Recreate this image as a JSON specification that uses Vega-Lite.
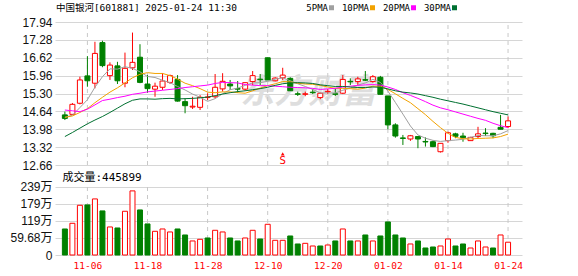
{
  "$schema": "https://vega.github.io/schema/vega-lite/v6.json",
  "width": 467,
  "height": 233,
  "autosize": {"type": "none"},
  "padding": {"left": 55, "top": 22, "right": 56, "bottom": 21},
  "background": "white",
  "config": {"view": {"stroke": null}, "axis": {"labelOverlap": false}},
  "datasets": {
    "k": [
      {"date":"11-01","i":0,"open":14.51,"high":14.63,"low":14.32,"close":14.38,"vol":907000,"vdir":"down","5PMA":14.42,"10PMA":14.42,"20PMA":14.69,"30PMA":13.71},
      {"date":"11-04","i":1,"open":14.53,"high":14.95,"low":14.50,"close":14.90,"vol":1105000,"vdir":"up","5PMA":14.50,"10PMA":14.47,"20PMA":14.66,"30PMA":13.86},
      {"date":"11-05","i":2,"open":14.94,"high":15.92,"low":14.90,"close":15.80,"vol":1733000,"vdir":"up","5PMA":14.78,"10PMA":14.60,"20PMA":14.63,"30PMA":14.02},
      {"date":"11-06","i":3,"open":15.95,"high":16.68,"low":15.55,"close":15.77,"vol":1745000,"vdir":"down","5PMA":15.07,"10PMA":14.74,"20PMA":14.72,"30PMA":14.18},
      {"date":"11-07","i":4,"open":15.68,"high":17.21,"low":15.49,"close":16.78,"vol":1954000,"vdir":"up","5PMA":15.53,"10PMA":14.96,"20PMA":14.88,"30PMA":14.32},
      {"date":"11-08","i":5,"open":17.18,"high":17.25,"low":16.27,"close":16.33,"vol":1536000,"vdir":"down","5PMA":15.92,"10PMA":15.16,"20PMA":15.04,"30PMA":14.45},
      {"date":"11-11","i":6,"open":15.96,"high":16.45,"low":15.80,"close":16.35,"vol":977000,"vdir":"up","5PMA":16.21,"10PMA":15.35,"20PMA":15.09,"30PMA":14.60},
      {"date":"11-12","i":7,"open":16.32,"high":16.47,"low":15.65,"close":15.77,"vol":942000,"vdir":"down","5PMA":16.20,"10PMA":15.51,"20PMA":15.15,"30PMA":14.76},
      {"date":"11-13","i":8,"open":15.68,"high":16.81,"low":15.53,"close":16.23,"vol":1524000,"vdir":"up","5PMA":16.29,"10PMA":15.69,"20PMA":15.20,"30PMA":14.92},
      {"date":"11-14","i":9,"open":16.25,"high":17.55,"low":16.17,"close":16.45,"vol":2234000,"vdir":"up","5PMA":16.23,"10PMA":15.88,"20PMA":15.27,"30PMA":15.05},
      {"date":"11-15","i":10,"open":16.64,"high":17.12,"low":15.68,"close":15.71,"vol":1570000,"vdir":"down","5PMA":16.10,"10PMA":16.01,"20PMA":15.31,"30PMA":15.10},
      {"date":"11-18","i":11,"open":15.65,"high":15.98,"low":15.33,"close":15.48,"vol":1082000,"vdir":"down","5PMA":15.93,"10PMA":16.07,"20PMA":15.36,"30PMA":15.10},
      {"date":"11-19","i":12,"open":15.46,"high":15.70,"low":15.18,"close":15.57,"vol":826000,"vdir":"up","5PMA":15.89,"10PMA":16.04,"20PMA":15.39,"30PMA":15.09},
      {"date":"11-20","i":13,"open":15.53,"high":16.05,"low":15.43,"close":15.76,"vol":907000,"vdir":"up","5PMA":15.79,"10PMA":16.04,"20PMA":15.42,"30PMA":15.11},
      {"date":"11-21","i":14,"open":15.71,"high":16.00,"low":15.65,"close":15.96,"vol":803000,"vdir":"up","5PMA":15.70,"10PMA":15.96,"20PMA":15.45,"30PMA":15.12},
      {"date":"11-22","i":15,"open":15.82,"high":15.98,"low":15.00,"close":15.02,"vol":907000,"vdir":"down","5PMA":15.56,"10PMA":15.83,"20PMA":15.48,"30PMA":15.10},
      {"date":"11-25","i":16,"open":15.00,"high":15.12,"low":14.57,"close":14.85,"vol":698000,"vdir":"down","5PMA":15.43,"10PMA":15.68,"20PMA":15.52,"30PMA":15.11},
      {"date":"11-26","i":17,"open":14.80,"high":15.18,"low":14.73,"close":14.83,"vol":489000,"vdir":"up","5PMA":15.28,"10PMA":15.59,"20PMA":15.55,"30PMA":15.12},
      {"date":"11-27","i":18,"open":14.79,"high":15.24,"low":14.69,"close":15.16,"vol":547000,"vdir":"up","5PMA":15.16,"10PMA":15.48,"20PMA":15.58,"30PMA":15.14},
      {"date":"11-28","i":19,"open":15.15,"high":15.31,"low":15.06,"close":15.17,"vol":593000,"vdir":"down","5PMA":15.01,"10PMA":15.35,"20PMA":15.61,"30PMA":15.17},
      {"date":"11-29","i":20,"open":15.18,"high":16.02,"low":15.12,"close":15.53,"vol":861000,"vdir":"up","5PMA":15.11,"10PMA":15.33,"20PMA":15.67,"30PMA":15.22},
      {"date":"12-02","i":21,"open":15.47,"high":16.05,"low":15.37,"close":15.75,"vol":803000,"vdir":"up","5PMA":15.29,"10PMA":15.36,"20PMA":15.71,"30PMA":15.28},
      {"date":"12-03","i":22,"open":15.65,"high":15.80,"low":15.43,"close":15.58,"vol":593000,"vdir":"down","5PMA":15.44,"10PMA":15.36,"20PMA":15.70,"30PMA":15.33},
      {"date":"12-04","i":23,"open":15.48,"high":15.76,"low":15.33,"close":15.46,"vol":489000,"vdir":"down","5PMA":15.50,"10PMA":15.33,"20PMA":15.69,"30PMA":15.37},
      {"date":"12-05","i":24,"open":15.46,"high":15.70,"low":15.40,"close":15.70,"vol":593000,"vdir":"up","5PMA":15.60,"10PMA":15.31,"20PMA":15.63,"30PMA":15.40},
      {"date":"12-06","i":25,"open":15.74,"high":16.13,"low":15.61,"close":15.96,"vol":861000,"vdir":"up","5PMA":15.69,"10PMA":15.40,"20PMA":15.61,"30PMA":15.44},
      {"date":"12-09","i":26,"open":15.83,"high":16.02,"low":15.61,"close":15.81,"vol":558000,"vdir":"down","5PMA":15.70,"10PMA":15.50,"20PMA":15.59,"30PMA":15.48},
      {"date":"12-10","i":27,"open":16.62,"high":16.62,"low":15.80,"close":15.80,"vol":1070000,"vdir":"up","5PMA":15.75,"10PMA":15.59,"20PMA":15.59,"30PMA":15.53},
      {"date":"12-11","i":28,"open":15.77,"high":15.90,"low":15.75,"close":15.87,"vol":512000,"vdir":"up","5PMA":15.83,"10PMA":15.66,"20PMA":15.57,"30PMA":15.60},
      {"date":"12-12","i":29,"open":15.88,"high":16.25,"low":15.80,"close":15.98,"vol":512000,"vdir":"up","5PMA":15.88,"10PMA":15.74,"20PMA":15.55,"30PMA":15.66},
      {"date":"12-13","i":30,"open":15.86,"high":15.90,"low":15.40,"close":15.40,"vol":663000,"vdir":"down","5PMA":15.77,"10PMA":15.73,"20PMA":15.53,"30PMA":15.69},
      {"date":"12-16","i":31,"open":15.29,"high":15.37,"low":15.21,"close":15.27,"vol":384000,"vdir":"down","5PMA":15.66,"10PMA":15.68,"20PMA":15.52,"30PMA":15.70},
      {"date":"12-17","i":32,"open":15.27,"high":15.37,"low":15.20,"close":15.29,"vol":407000,"vdir":"up","5PMA":15.56,"10PMA":15.65,"20PMA":15.51,"30PMA":15.69},
      {"date":"12-18","i":33,"open":15.35,"high":15.47,"low":15.28,"close":15.33,"vol":314000,"vdir":"up","5PMA":15.45,"10PMA":15.64,"20PMA":15.49,"30PMA":15.67},
      {"date":"12-19","i":34,"open":15.15,"high":15.33,"low":15.09,"close":15.31,"vol":314000,"vdir":"down","5PMA":15.32,"10PMA":15.60,"20PMA":15.45,"30PMA":15.62},
      {"date":"12-20","i":35,"open":15.36,"high":15.47,"low":15.28,"close":15.38,"vol":349000,"vdir":"up","5PMA":15.32,"10PMA":15.54,"20PMA":15.47,"30PMA":15.59},
      {"date":"12-23","i":36,"open":15.29,"high":15.49,"low":15.21,"close":15.27,"vol":489000,"vdir":"down","5PMA":15.32,"10PMA":15.49,"20PMA":15.49,"30PMA":15.56},
      {"date":"12-24","i":37,"open":15.31,"high":15.98,"low":15.28,"close":15.82,"vol":907000,"vdir":"up","5PMA":15.42,"10PMA":15.49,"20PMA":15.54,"30PMA":15.56},
      {"date":"12-25","i":38,"open":15.75,"high":15.86,"low":15.61,"close":15.73,"vol":489000,"vdir":"down","5PMA":15.50,"10PMA":15.48,"20PMA":15.57,"30PMA":15.54},
      {"date":"12-26","i":39,"open":15.74,"high":15.92,"low":15.61,"close":15.84,"vol":489000,"vdir":"up","5PMA":15.61,"10PMA":15.46,"20PMA":15.60,"30PMA":15.52},
      {"date":"12-27","i":40,"open":15.81,"high":16.13,"low":15.76,"close":15.79,"vol":698000,"vdir":"down","5PMA":15.69,"10PMA":15.50,"20PMA":15.62,"30PMA":15.52},
      {"date":"12-30","i":41,"open":15.74,"high":15.98,"low":15.70,"close":15.92,"vol":489000,"vdir":"up","5PMA":15.82,"10PMA":15.57,"20PMA":15.63,"30PMA":15.54},
      {"date":"12-31","i":42,"open":15.90,"high":15.95,"low":15.27,"close":15.27,"vol":663000,"vdir":"down","5PMA":15.71,"10PMA":15.57,"20PMA":15.61,"30PMA":15.53},
      {"date":"01-02","i":43,"open":15.21,"high":15.21,"low":13.98,"close":14.14,"vol":1152000,"vdir":"down","5PMA":15.39,"10PMA":15.45,"20PMA":15.54,"30PMA":15.47},
      {"date":"01-03","i":44,"open":14.14,"high":14.20,"low":13.67,"close":13.73,"vol":698000,"vdir":"down","5PMA":14.97,"10PMA":15.29,"20PMA":15.45,"30PMA":15.40},
      {"date":"01-06","i":45,"open":13.66,"high":13.77,"low":13.40,"close":13.64,"vol":593000,"vdir":"down","5PMA":14.54,"10PMA":15.12,"20PMA":15.33,"30PMA":15.35},
      {"date":"01-07","i":46,"open":13.62,"high":13.77,"low":13.55,"close":13.74,"vol":384000,"vdir":"up","5PMA":14.10,"10PMA":14.96,"20PMA":15.23,"30PMA":15.32},
      {"date":"01-08","i":47,"open":13.71,"high":13.73,"low":13.28,"close":13.62,"vol":489000,"vdir":"down","5PMA":13.77,"10PMA":14.74,"20PMA":15.12,"30PMA":15.28},
      {"date":"01-09","i":48,"open":13.53,"high":13.68,"low":13.34,"close":13.51,"vol":244000,"vdir":"down","5PMA":13.65,"10PMA":14.52,"20PMA":15.00,"30PMA":15.22},
      {"date":"01-10","i":49,"open":13.52,"high":13.56,"low":13.32,"close":13.34,"vol":279000,"vdir":"down","5PMA":13.57,"10PMA":14.27,"20PMA":14.87,"30PMA":15.16},
      {"date":"01-13","i":50,"open":13.15,"high":13.46,"low":13.12,"close":13.46,"vol":314000,"vdir":"up","5PMA":13.53,"10PMA":14.04,"20PMA":14.77,"30PMA":15.09},
      {"date":"01-14","i":51,"open":13.56,"high":13.89,"low":13.48,"close":13.85,"vol":558000,"vdir":"up","5PMA":13.56,"10PMA":13.83,"20PMA":14.70,"30PMA":15.03},
      {"date":"01-15","i":52,"open":13.81,"high":13.85,"low":13.65,"close":13.72,"vol":314000,"vdir":"down","5PMA":13.58,"10PMA":13.68,"20PMA":14.62,"30PMA":14.97},
      {"date":"01-16","i":53,"open":13.73,"high":13.85,"low":13.52,"close":13.67,"vol":384000,"vdir":"down","5PMA":13.61,"10PMA":13.63,"20PMA":14.54,"30PMA":14.91},
      {"date":"01-17","i":54,"open":13.56,"high":13.70,"low":13.56,"close":13.68,"vol":244000,"vdir":"up","5PMA":13.68,"10PMA":13.62,"20PMA":14.46,"30PMA":14.84},
      {"date":"01-20","i":55,"open":13.71,"high":14.07,"low":13.65,"close":13.81,"vol":489000,"vdir":"up","5PMA":13.75,"10PMA":13.64,"20PMA":14.38,"30PMA":14.77},
      {"date":"01-21","i":56,"open":13.84,"high":14.02,"low":13.73,"close":13.82,"vol":279000,"vdir":"up","5PMA":13.74,"10PMA":13.65,"20PMA":14.31,"30PMA":14.70},
      {"date":"01-22","i":57,"open":13.83,"high":13.85,"low":13.65,"close":13.74,"vol":244000,"vdir":"down","5PMA":13.74,"10PMA":13.66,"20PMA":14.20,"30PMA":14.63},
      {"date":"01-23","i":58,"open":14.05,"high":14.51,"low":13.98,"close":13.98,"vol":698000,"vdir":"up","5PMA":13.81,"10PMA":13.71,"20PMA":14.11,"30PMA":14.57},
      {"date":"01-24","i":59,"open":14.08,"high":14.45,"low":14.02,"close":14.29,"vol":445899,"vdir":"up","5PMA":13.93,"10PMA":13.80,"20PMA":14.04,"30PMA":14.51}
    ],
    "ticks": [{"i":3},{"i":11},{"i":19},{"i":27},{"i":35},{"i":43},{"i":51},{"i":59}],
    "one": [{"label":"frame"}],
    "signal": [{"i":29,"signal":"S"}]
  },
  "data": {"name": "k"},
  "encoding": {
    "x": {
      "field": "i", "type": "quantitative", "title": null,
      "scale": {"domain": [-0.65, 60.19], "nice": false, "zero": false},
      "axis": {
        "title": null, "values": [3, 11, 19, 27, 35, 43, 51, 59], "tickCount": 20,
        "labelExpr": "['11-06','11-18','11-28','12-10','12-20','01-02','01-14','01-24'][(datum.value - 3) / 8]",
        "grid": false, "domain": false, "ticks": false,
        "labelColor": "#ff0000", "labelFont": "DejaVu Sans Mono", "labelFontSize": 9.5,
        "labelPadding": 5, "labelFlush": false, "labelOverlap": false
      }
    }
  },
  "layer": [
    {
      "layer": [
        {
          "mark": {"type": "rule", "strokeWidth": 1},
          "encoding": {
            "y": {
              "field": "low", "type": "quantitative", "title": null,
              "scale": {"domain": [12.66, 17.94], "nice": false, "zero": false, "range": [143, 0]},
              "axis": {
                "title": null, "orient": "left", "tickCount": 20,
                "values": [12.66, 13.32, 13.98, 14.64, 15.30, 15.96, 16.62, 17.28, 17.94],
                "format": ".2f", "grid": true, "gridColor": "#d6d6d6", "gridWidth": 1,
                "domain": false, "ticks": false, "labelPadding": 3,
                "labelFont": "Liberation Sans", "labelFontSize": 12, "labelColor": "#111",
                "labelOverlap": false, "labelFlush": false, "labelBound": false
              }
            },
            "y2": {"field": "high"},
            "color": {"value": "transparent"}
          }
        },
        {
          "transform": [{"filter": "datum.i == 32"}],
          "mark": {"type": "text", "text": "东方财富", "font": "Noto Sans CJK SC", "fontSize": 34, "fontWeight": "bold", "fontStyle": "italic", "color": "#dedede", "align": "center", "baseline": "middle", "dx": 3},
          "encoding": {
            "y": {"datum": 15.32, "type": "quantitative", "title": null}
          }
        },
        {
          "data": {"name": "ticks"},
          "mark": {"type": "rule", "stroke": "#c8c8c8", "strokeDash": [4, 4], "strokeWidth": 1},
          "encoding": {
            "y": {"datum": 12.66, "type": "quantitative", "title": null},
            "y2": {"datum": 17.94}
          }
        },
        {
          "data": {"name": "one"},
          "mark": {"type": "rect", "fill": null, "fillOpacity": 0, "stroke": "#999999", "strokeWidth": 1},
          "encoding": {
            "x": {"datum": -0.65, "type": "quantitative"},
            "x2": {"datum": 60.19},
            "y": {"datum": 12.66, "type": "quantitative", "title": null},
            "y2": {"datum": 17.94}
          }
        },
        {
          "mark": {"type": "rule", "strokeWidth": 1},
          "encoding": {
            "y": {"field": "low", "type": "quantitative", "title": null},
            "y2": {"field": "high"},
            "color": {"condition": {"test": "datum.close > datum.open", "value": "#ff0000"}, "value": "#008000"}
          }
        },
        {
          "mark": {"type": "bar", "width": 5, "strokeWidth": 1, "orient": "vertical"},
          "encoding": {
            "y": {"field": "open", "type": "quantitative", "title": null},
            "y2": {"field": "close"},
            "fill": {"condition": {"test": "datum.close > datum.open", "value": "#ffffff"}, "value": "#008000"},
            "stroke": {"condition": {"test": "datum.close > datum.open", "value": "#ff0000"}, "value": "#008000"}
          }
        },
        {
          "transform": [{"fold": ["5PMA", "10PMA", "20PMA", "30PMA"], "as": ["ma", "value"]}],
          "mark": {"type": "line", "strokeWidth": 1, "interpolate": "linear"},
          "encoding": {
            "y": {"field": "value", "type": "quantitative", "title": null},
            "color": {
              "field": "ma", "type": "nominal",
              "scale": {"domain": ["5PMA", "10PMA", "20PMA", "30PMA"], "range": ["#a0a0a0", "#f2a200", "#ff00ff", "#007030"]},
              "legend": {
                "title": null, "orient": "none", "legendX": 272, "legendY": -19, "direction": "horizontal",
                "padding": 0, "symbolType": "square", "symbolSize": 25, "symbolStrokeWidth": 0,
                "labelFont": "DejaVu Sans Mono", "labelFontSize": 9, "labelColor": "#000",
                "labelAlign": "right", "labelOffset": -8, "columnPadding": 7,
                "encode": {"symbols": {"update": {"fill": {"scale": "color", "field": "value"}, "stroke": {"value": "transparent"}, "shape": {"value": "square"}}}}
              }
            }
          }
        },
        {
          "data": {"name": "signal"},
          "mark": {"type": "text", "color": "#ff0000", "font": "DejaVu Sans", "fontSize": 10, "align": "center", "baseline": "middle"},
          "encoding": {
            "y": {"datum": 12.82, "type": "quantitative", "title": null},
            "text": {"field": "signal"}
          }
        },
        {
          "data": {"name": "signal"},
          "mark": {"type": "point", "shape": "triangle-up", "filled": true, "size": 14, "color": "#ff0000", "opacity": 1},
          "encoding": {
            "y": {"datum": 13.07, "type": "quantitative", "title": null}
          }
        },
        {
          "transform": [{"filter": "datum.i == 0"}],
          "mark": {"type": "text", "text": "中国银河[601881] 2025-01-24 11:30", "font": "DejaVu Sans Mono, Noto Sans CJK SC", "fontSize": 9.5, "color": "#000", "align": "left", "baseline": "middle", "dx": -9},
          "encoding": {
            "y": {"datum": 18.46, "type": "quantitative", "title": null}
          }
        },
        {
          "transform": [{"filter": "datum.i == 0"}],
          "mark": {"type": "text", "text": "成交量:445899", "font": "DejaVu Sans Mono, Noto Sans CJK SC", "fontSize": 11, "color": "#000", "align": "left", "baseline": "middle", "dx": -2.5},
          "encoding": {
            "y": {"datum": 12.18, "type": "quantitative", "title": null}
          }
        }
      ]
    },
    {
      "layer": [
        {
          "mark": {"type": "bar", "width": 5, "strokeWidth": 1, "orient": "vertical"},
          "encoding": {
            "y": {
              "field": "vol", "type": "quantitative", "title": null,
              "scale": {"domain": [0, 2387200], "nice": false, "zero": true, "range": [233, 164.5]},
              "axis": {
                "title": null, "orient": "left", "tickCount": 20,
                "values": [0, 596800, 1193600, 1790400, 2387200],
                "labelExpr": "datum.value == 0 ? '0' : datum.value < 1000000 ? '59.68万' : format(datum.value / 10000, '.0f') + '万'",
                "grid": true, "gridColor": "#d6d6d6", "gridWidth": 1,
                "domain": false, "ticks": false, "labelPadding": 3,
                "labelFont": "Liberation Sans, Noto Sans CJK SC", "labelFontSize": 12, "labelColor": "#111",
                "labelOverlap": false, "labelFlush": false, "labelBound": false
              }
            },
            "y2": {"datum": 0},
            "fill": {"value": "transparent"},
            "stroke": {"value": "transparent"}
          }
        },
        {
          "data": {"name": "ticks"},
          "mark": {"type": "rule", "stroke": "#c8c8c8", "strokeDash": [4, 4], "strokeWidth": 1},
          "encoding": {
            "y": {"datum": 0, "type": "quantitative", "title": null},
            "y2": {"datum": 2387200}
          }
        },
        {
          "data": {"name": "one"},
          "mark": {"type": "rect", "fill": null, "fillOpacity": 0, "stroke": "#999999", "strokeWidth": 1},
          "encoding": {
            "x": {"datum": -0.65, "type": "quantitative"},
            "x2": {"datum": 60.19},
            "y": {"datum": 0, "type": "quantitative", "title": null},
            "y2": {"datum": 2387200}
          }
        },
        {
          "mark": {"type": "bar", "width": 5, "strokeWidth": 1, "orient": "vertical"},
          "encoding": {
            "y": {"field": "vol", "type": "quantitative", "title": null},
            "y2": {"datum": 0},
            "fill": {"condition": {"test": "datum.vdir == 'up'", "value": "#ffffff"}, "value": "#008000"},
            "stroke": {"condition": {"test": "datum.vdir == 'up'", "value": "#ff0000"}, "value": "#008000"}
          }
        }
      ]
    }
  ],
  "resolve": {"scale": {"y": "independent"}}
}
